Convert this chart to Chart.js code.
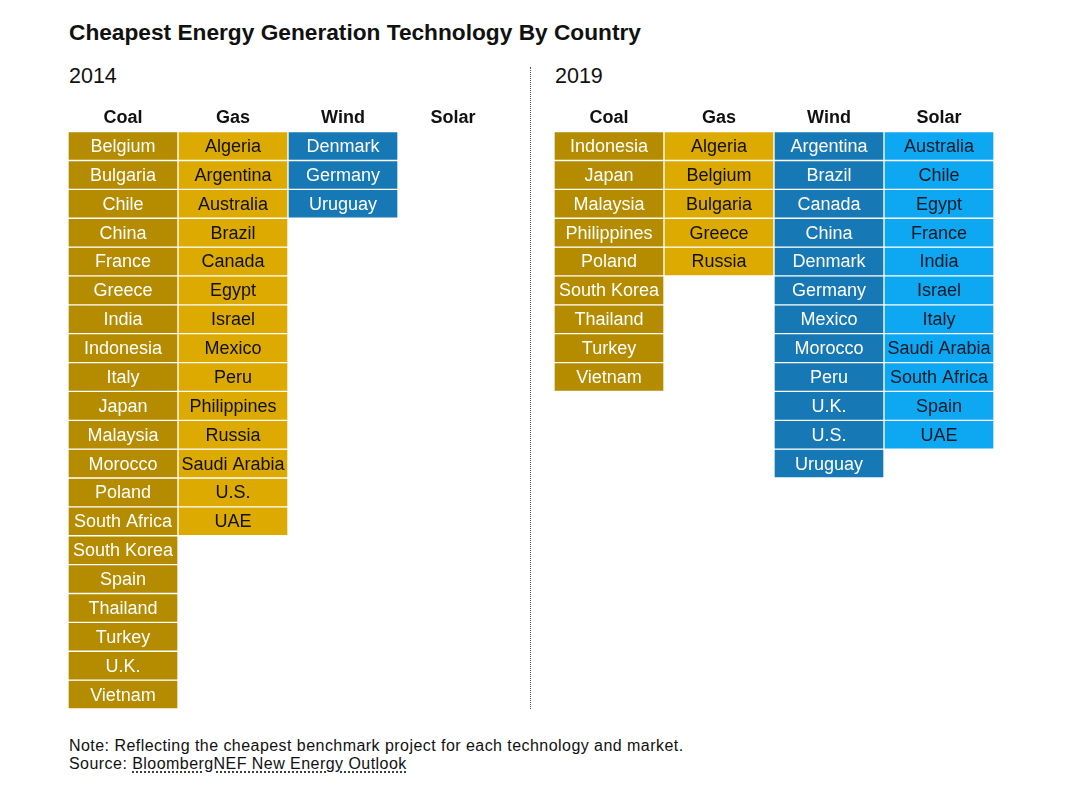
<!DOCTYPE html>
<html>
<head>
<meta charset="utf-8">
<script src="https://cdn.jsdelivr.net/npm/chart.js@4.4.1/dist/chart.umd.min.js"></script>
<style>
  body { margin: 0; background: #fff; font-family: "Liberation Sans", Arial, sans-serif; color: #111; }
  #page { position: relative; width: 1087px; height: 801px; overflow: hidden; }
  .txt { position: absolute; white-space: nowrap; line-height: 1; }
  #title { left: 69px; top: 21px; font-size: 22.7px; font-weight: bold; }
  .year { top: 66px; font-size: 21.5px; }
  .panel { position: absolute; top: 104px; width: 440px; height: 605px; }
  #divider { position: absolute; left: 530px; top: 67px; height: 642px; border-left: 1px dotted #555; }
  .note { left: 69px; font-size: 16px; letter-spacing: 0.45px; }
  .src { text-decoration: underline dotted; text-underline-offset: 3px; }
</style>
</head>
<body>
<div id="page">
  <div id="title" class="txt">Cheapest Energy Generation Technology By Country</div>
  <div class="txt year" style="left:69px">2014</div>
  <div class="txt year" style="left:555px">2019</div>
  <div id="divider"></div>
  <div class="panel" style="left:68px"><canvas id="chart2014"></canvas></div>
  <div class="panel" style="left:554px"><canvas id="chart2019"></canvas></div>
  <div class="txt note" style="top:738px">Note: Reflecting the cheapest benchmark project for each technology and market.</div>
  <div class="txt note" style="top:756px">Source: <span class="src">BloombergNEF New Energy Outlook</span></div>
</div>
<script>
// technology columns
const technologies = ['Coal', 'Gas', 'Wind', 'Solar'];
const techColors = ['#b58b00', '#dcaa00', '#1778b6', '#0ea7f2'];
const techTextColors = ['#ffffff', '#111111', '#ffffff', '#0d1a26'];

// 2014
const coal2014 = ['Belgium', 'Bulgaria', 'Chile', 'China', 'France', 'Greece', 'India', 'Indonesia', 'Italy', 'Japan',
  'Malaysia', 'Morocco', 'Poland', 'South Africa', 'South Korea', 'Spain', 'Thailand', 'Turkey', 'U.K.', 'Vietnam'];
const gas2014 = ['Algeria', 'Argentina', 'Australia', 'Brazil', 'Canada', 'Egypt', 'Israel', 'Mexico', 'Peru',
  'Philippines', 'Russia', 'Saudi Arabia', 'U.S.', 'UAE'];
const wind2014 = ['Denmark', 'Germany', 'Uruguay'];
const solar2014 = [];

// 2019
const coal2019 = ['Indonesia', 'Japan', 'Malaysia', 'Philippines', 'Poland', 'South Korea', 'Thailand', 'Turkey', 'Vietnam'];
const gas2019 = ['Algeria', 'Belgium', 'Bulgaria', 'Greece', 'Russia'];
const wind2019 = ['Argentina', 'Brazil', 'Canada', 'China', 'Denmark', 'Germany', 'Mexico', 'Morocco', 'Peru',
  'U.K.', 'U.S.', 'Uruguay'];
const solar2019 = ['Australia', 'Chile', 'Egypt', 'France', 'India', 'Israel', 'Italy', 'Saudi Arabia',
  'South Africa', 'Spain', 'UAE'];

const maxRows = 20;

// draws the country name in the middle of each cell
const cellLabels = {
  id: 'cellLabels',
  afterDatasetsDraw(chart) {
    const ctx = chart.ctx;
    ctx.save();
    ctx.font = '18px "Liberation Sans", Arial, sans-serif';
    ctx.textAlign = 'center';
    ctx.textBaseline = 'middle';
    chart.data.datasets.forEach((ds, i) => {
      chart.getDatasetMeta(i).data.forEach((bar, j) => {
        const name = ds.names[j];
        if (!name) return;
        ctx.fillStyle = techTextColors[j];
        ctx.fillText(name, bar.x, (bar.y + bar.base) / 2 + 1);
      });
    });
    ctx.restore();
  }
};

function makeGrid(id, columns) {
  const datasets = [];
  for (let r = 0; r < maxRows; r++) {
    datasets.push({
      data: columns.map(col => (col[r] ? 1 : null)),
      names: columns.map(col => col[r] || null),
      backgroundColor: techColors,
      borderColor: '#ffffff',
      borderWidth: 1,
      borderSkipped: false,
      categoryPercentage: 1,
      barPercentage: 1
    });
  }
  new Chart(document.getElementById(id), {
    type: 'bar',
    data: { labels: technologies, datasets },
    options: {
      responsive: true,
      maintainAspectRatio: false,
      animation: false,
      layout: { padding: 0 },
      plugins: { legend: { display: false }, tooltip: { enabled: false } },
      scales: {
        x: {
          position: 'top',
          stacked: true,
          grid: { display: false, drawTicks: false, tickLength: 0 },
          border: { display: false },
          ticks: { color: '#111', padding: 3, font: { family: '"Liberation Sans", Arial, sans-serif', size: 18, weight: 'bold' } }
        },
        y: { display: false, stacked: true, reverse: true, min: 0, max: maxRows }
      }
    },
    plugins: [cellLabels]
  });
}

makeGrid('chart2014', [coal2014, gas2014, wind2014, solar2014]);
makeGrid('chart2019', [coal2019, gas2019, wind2019, solar2019]);
</script>
</body>
</html>
